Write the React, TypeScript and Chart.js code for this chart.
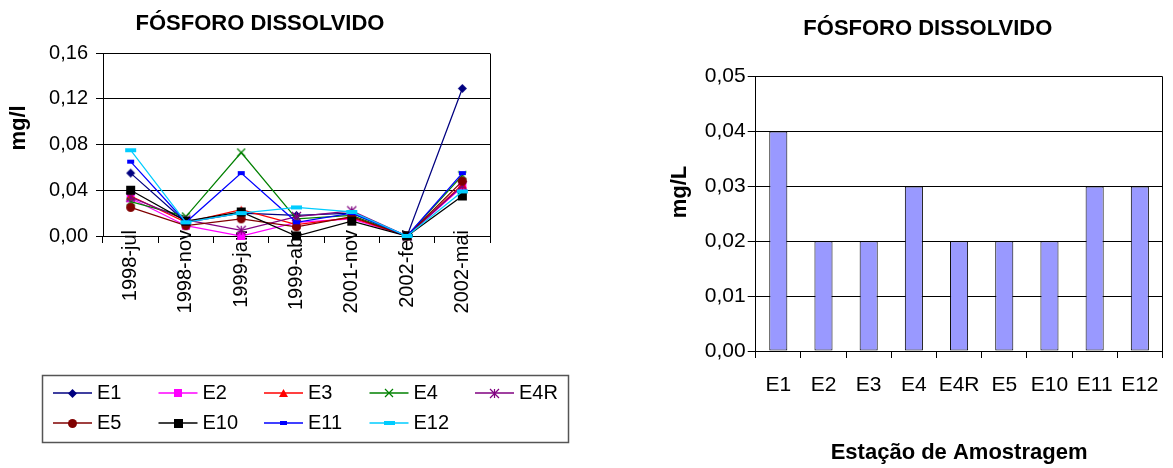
import React, { useEffect, useRef } from 'react';
import { Chart, registerables } from 'chart.js';

Chart.register(...registerables);

const FONT_FAMILY = "'Liberation Sans', Arial, Helvetica, sans-serif";
Chart.defaults.font.family = FONT_FAMILY;
Chart.defaults.color = '#000';

// ---------------- Left chart (line) data ----------------
const lineChartTitle = 'FÓSFORO DISSOLVIDO';
const lineYAxisTitle = 'mg/l';
const samplingDates = ['1998-jul', '1998-nov', '1999-jan', '1999-abr', '2001-nov', '2002-fev', '2002-mai'];
const lineYTicks = [0, 0.04, 0.08, 0.12, 0.16];
const stationNames = ['E1', 'E2', 'E3', 'E4', 'E4R', 'E5', 'E10', 'E11', 'E12'];

const seriesE1 = [0.055, 0.012, 0.020, 0.018, 0.020, 0.000, 0.129];
const seriesE2 = [0.033, 0.009, 0.000, 0.012, 0.015, 0.000, 0.043];
const seriesE3 = [0.035, 0.012, 0.023, 0.010, 0.016, 0.000, 0.045];
const seriesE4 = [0.030, 0.017, 0.073, 0.015, 0.018, 0.000, 0.053];
const seriesE4R = [0.034, 0.014, 0.005, 0.017, 0.022, 0.000, 0.044];
const seriesE5 = [0.025, 0.009, 0.015, 0.008, 0.017, 0.000, 0.048];
const seriesE10 = [0.040, 0.013, 0.021, 0.000, 0.013, 0.000, 0.035];
const seriesE11 = [0.065, 0.012, 0.055, 0.012, 0.020, 0.000, 0.055];
const seriesE12 = [0.075, 0.012, 0.020, 0.025, 0.021, 0.000, 0.039];
const lineSeries = [seriesE1, seriesE2, seriesE3, seriesE4, seriesE4R, seriesE5, seriesE10, seriesE11, seriesE12];

// ---------------- Right chart (bar) data ----------------
const barChartTitle = 'FÓSFORO DISSOLVIDO';
const barYAxisTitle = 'mg/L';
const barXAxisTitle = 'Estação de Amostragem';
const barStations = ['E1', 'E2', 'E3', 'E4', 'E4R', 'E5', 'E10', 'E11', 'E12'];
const barValues = [0.04, 0.02, 0.02, 0.03, 0.02, 0.02, 0.02, 0.03, 0.03];
const barYTicks = [0, 0.01, 0.02, 0.03, 0.04, 0.05];

// ---------------- Styles ----------------
const seriesStyles = [
  { color: '#000080', marker: 'diamond', w: 9, h: 9 },
  { color: '#FF00FF', marker: 'square', w: 8, h: 8 },
  { color: '#FF0000', marker: 'triangle', w: 9, h: 8 },
  { color: '#008000', marker: 'x', w: 8, h: 8 },
  { color: '#800080', marker: 'star', w: 9, h: 9 },
  { color: '#800000', marker: 'circle', w: 9, h: 9 },
  { color: '#000000', marker: 'square', w: 9, h: 9 },
  { color: '#0000FF', marker: 'bar', w: 7, h: 4 },
  { color: '#00CCFF', marker: 'bar', w: 11, h: 4 },
];

const fmt = (v: number) => Number(v).toFixed(2).replace('.', ',');
const alignPx = (p: number) => Math.round(p - 0.5) + 0.5;

function makeMarker(kind: string, color: string, w: number, h: number): HTMLCanvasElement {
  const c = document.createElement('canvas');
  c.width = w + 2;
  c.height = h + 2;
  const ctx = c.getContext('2d') as CanvasRenderingContext2D;
  ctx.fillStyle = color;
  ctx.strokeStyle = color;
  ctx.lineWidth = 1.2;
  const cx = c.width / 2;
  const cy = c.height / 2;
  ctx.beginPath();
  switch (kind) {
    case 'diamond':
      ctx.moveTo(cx, cy - h / 2);
      ctx.lineTo(cx + w / 2, cy);
      ctx.lineTo(cx, cy + h / 2);
      ctx.lineTo(cx - w / 2, cy);
      ctx.closePath();
      ctx.fill();
      break;
    case 'square':
    case 'bar':
      ctx.fillRect(cx - w / 2, cy - h / 2, w, h);
      break;
    case 'triangle':
      ctx.moveTo(cx, cy - h / 2);
      ctx.lineTo(cx + w / 2, cy + h / 2);
      ctx.lineTo(cx - w / 2, cy + h / 2);
      ctx.closePath();
      ctx.fill();
      break;
    case 'x':
      ctx.moveTo(cx - w / 2, cy - h / 2);
      ctx.lineTo(cx + w / 2, cy + h / 2);
      ctx.moveTo(cx + w / 2, cy - h / 2);
      ctx.lineTo(cx - w / 2, cy + h / 2);
      ctx.stroke();
      break;
    case 'star':
      ctx.moveTo(cx - w / 2, cy - h / 2);
      ctx.lineTo(cx + w / 2, cy + h / 2);
      ctx.moveTo(cx + w / 2, cy - h / 2);
      ctx.lineTo(cx - w / 2, cy + h / 2);
      ctx.moveTo(cx, cy - h / 2);
      ctx.lineTo(cx, cy + h / 2);
      ctx.stroke();
      break;
    case 'circle':
      ctx.arc(cx, cy, w / 2, 0, Math.PI * 2);
      ctx.fill();
      break;
  }
  return c;
}

const decorPlugin: any = {
  id: 'decor',
  beforeDatasetsDraw(chart: any) {
    const { ctx, chartArea: a } = chart;
    ctx.save();
    // right border of the plot area
    ctx.strokeStyle = '#000';
    ctx.lineWidth = 1;
    const xr = alignPx(a.right);
    ctx.beginPath();
    ctx.moveTo(xr, alignPx(a.top));
    ctx.lineTo(xr, alignPx(a.bottom));
    ctx.stroke();
    ctx.restore();
  },
  afterDraw(chart: any, _args: any, opts: any) {
    const { ctx } = chart;
    if (opts && opts.yTitle) {
      const t = opts.yTitle;
      ctx.save();
      ctx.fillStyle = '#000';
      ctx.font = `bold ${t.size}px ${FONT_FAMILY}`;
      ctx.textAlign = 'center';
      ctx.textBaseline = 'middle';
      ctx.translate(t.x, t.y);
      ctx.rotate(-Math.PI / 2);
      ctx.fillText(t.text, 0, 0);
      ctx.restore();
    }
    if (opts && opts.legend) {
      const L = opts.legend;
      ctx.save();
      ctx.strokeStyle = L.borderColor;
      ctx.lineWidth = L.borderWidth;
      ctx.strokeRect(L.box.x + 0.5, L.box.y + 0.5, L.box.w, L.box.h);
      ctx.font = `${L.fontSize}px ${FONT_FAMILY}`;
      ctx.textAlign = 'left';
      ctx.textBaseline = 'middle';
      chart.data.datasets.forEach((ds: any, i: number) => {
        const col = i % L.perRow;
        const row = Math.floor(i / L.perRow);
        const x0 = L.firstX + col * L.colStep;
        const y = L.firstY + row * L.rowStep;
        ctx.strokeStyle = ds.borderColor;
        ctx.lineWidth = 1.5;
        ctx.beginPath();
        ctx.moveTo(x0, y);
        ctx.lineTo(x0 + L.lineLen, y);
        ctx.stroke();
        const m = ds.pointStyle as HTMLCanvasElement;
        ctx.drawImage(m, Math.round(x0 + L.lineLen / 2 - m.width / 2), Math.round(y - m.height / 2));
        ctx.fillStyle = '#000';
        ctx.fillText(ds.label, x0 + L.lineLen + L.textGap, y);
      });
      ctx.restore();
    }
  },
};

export default function App() {
  const leftRef = useRef<HTMLCanvasElement>(null);
  const rightRef = useRef<HTMLCanvasElement>(null);

  useEffect(() => {
    const markers = seriesStyles.map((s) => makeMarker(s.marker, s.color, s.w, s.h));

    const left = new Chart(leftRef.current as HTMLCanvasElement, {
      type: 'line',
      data: {
        labels: samplingDates,
        datasets: stationNames.map((name, i) => ({
          label: name,
          data: lineSeries[i],
          borderColor: seriesStyles[i].color,
          backgroundColor: seriesStyles[i].color,
          borderWidth: 1.25,
          pointStyle: markers[i],
          pointRadius: 4,
          pointHoverRadius: 4,
          tension: 0,
          fill: false,
          clip: false as any,
          order: stationNames.length - i,
        })),
      },
      options: {
        responsive: false,
        animation: false,
        devicePixelRatio: 1,
        events: [],
        layout: { padding: { left: 30, right: 110, top: 0, bottom: 0 } },
        plugins: {
          legend: { display: false },
          tooltip: { enabled: false },
          title: {
            display: true,
            text: lineChartTitle,
            color: '#000',
            font: { family: FONT_FAMILY, size: 22, weight: 'bold' },
            padding: { top: 11, bottom: 15.6 },
          },
          decor: {
            yTitle: { text: lineYAxisTitle, x: 19, y: 128, size: 22 },
            legend: {
              box: { x: 42, y: 375, w: 526, h: 67 },
              borderColor: '#555',
              borderWidth: 1.5,
              firstX: 53,
              firstY: 393,
              colStep: 105.5,
              rowStep: 30,
              perRow: 5,
              lineLen: 39,
              textGap: 5,
              fontSize: 20,
            },
          },
        } as any,
        scales: {
          x: {
            type: 'category',
            offset: true,
            grid: { offset: true, drawOnChartArea: false, color: '#000', tickLength: 7 },
            border: { color: '#000', width: 1 },
            ticks: {
              color: '#000',
              font: { family: FONT_FAMILY, size: 20 },
              minRotation: 90,
              maxRotation: 90,
              autoSkip: false,
              padding: -13,
            },
            afterFit: (s: any) => {
              s.height = 232;
              // let the rotated labels run up into the plot area (markers are drawn over them)
              s._computeLabelArea = () => undefined;
            },
          },
          y: {
            min: lineYTicks[0],
            max: lineYTicks[lineYTicks.length - 1],
            ticks: {
              stepSize: lineYTicks[1] - lineYTicks[0],
              callback: (v: any) => fmt(v),
              color: '#000',
              font: { family: FONT_FAMILY, size: 20 },
              padding: 8,
            },
            grid: { color: '#000', tickLength: 7 },
            border: { color: '#000', width: 1 },
            afterFit: (s: any) => { s.width = 73; },
          },
        } as any,
      },
      plugins: [decorPlugin],
    });

    const right = new Chart(rightRef.current as HTMLCanvasElement, {
      type: 'bar',
      data: {
        labels: barStations,
        datasets: [
          {
            label: barChartTitle,
            data: barValues,
            backgroundColor: '#9999FF',
            borderColor: '#000',
            borderWidth: 1,
            borderSkipped: false,
            barPercentage: 0.4,
            categoryPercentage: 1,
          },
        ],
      },
      options: {
        responsive: false,
        animation: false,
        devicePixelRatio: 1,
        events: [],
        layout: { padding: { left: 19.9, right: 1.3, top: 0, bottom: 0 } },
        plugins: {
          legend: { display: false },
          tooltip: { enabled: false },
          title: {
            display: true,
            text: barChartTitle,
            color: '#000',
            font: { family: FONT_FAMILY, size: 22, weight: 'bold' },
            padding: { top: 15.5, bottom: 34.8 },
          },
          decor: {
            yTitle: { text: barYAxisTitle, x: 16, y: 192, size: 22 },
          },
        } as any,
        scales: {
          x: {
            type: 'category',
            offset: true,
            grid: { offset: true, drawOnChartArea: false, color: '#000', tickLength: 7 },
            border: { color: '#000', width: 1 },
            ticks: {
              color: '#000',
              font: { family: FONT_FAMILY, size: 21 },
              padding: 14.4,
              autoSkip: false,
              maxRotation: 0,
              minRotation: 0,
            },
            title: {
              display: true,
              text: barXAxisTitle,
              color: '#000',
              font: { family: FONT_FAMILY, size: 22, weight: 'bold' },
              padding: { top: 0, bottom: 2 },
            },
            afterFit: (s: any) => { s.height = 117; },
          },
          y: {
            min: barYTicks[0],
            max: barYTicks[barYTicks.length - 1],
            ticks: {
              stepSize: barYTicks[1] - barYTicks[0],
              callback: (v: any) => fmt(v),
              color: '#000',
              font: { family: FONT_FAMILY, size: 21 },
              padding: 2,
            },
            grid: { color: '#000', tickLength: 8 },
            border: { color: '#000', width: 1 },
            afterFit: (s: any) => { s.width = 71.8; },
          },
        } as any,
      },
      plugins: [decorPlugin],
    });

    return () => {
      left.destroy();
      right.destroy();
    };
  }, []);

  return (
    <div style={{ position: 'absolute', left: 0, top: 0, width: 1173, height: 468, background: '#fff' }}>
      <canvas ref={leftRef} width={600} height={468} style={{ position: 'absolute', left: 0, top: 0 }} />
      <canvas ref={rightRef} width={509} height={468} style={{ position: 'absolute', left: 664, top: 0 }} />
    </div>
  );
}
